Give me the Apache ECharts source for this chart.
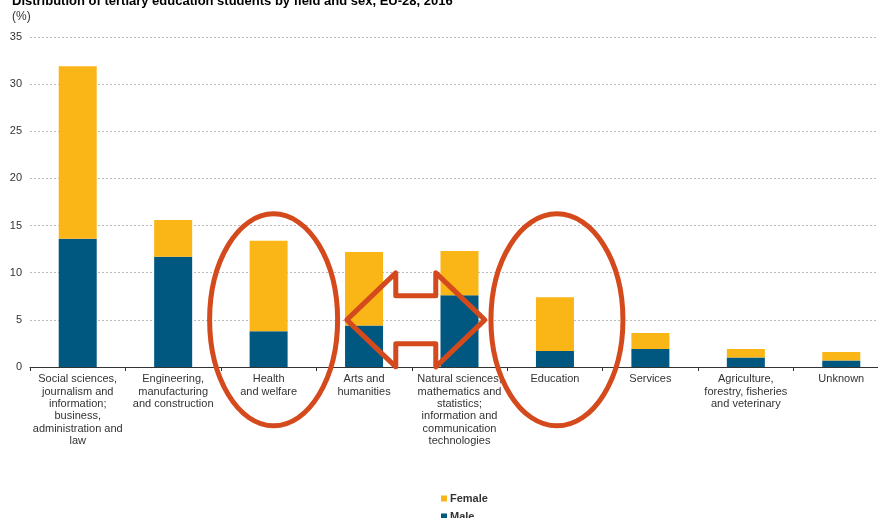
<!DOCTYPE html>
<html>
<head>
<meta charset="utf-8">
<script src="https://cdn.jsdelivr.net/npm/echarts@6/dist/echarts.min.js"></script>
<style>
html,body{margin:0;padding:0;background:#fff;}
#chart{width:878px;height:518px;}
</style>
</head>
<body>
<div id="chart"></div>
<script>
const categories = [
  'Social sciences,\njournalism and\ninformation;\nbusiness,\nadministration and\nlaw',
  'Engineering,\nmanufacturing\nand construction',
  'Health\nand welfare',
  'Arts and\nhumanities',
  'Natural sciences,\nmathematics and\nstatistics;\ninformation and\ncommunication\ntechnologies',
  'Education',
  'Services',
  'Agriculture,\nforestry, fisheries\nand veterinary',
  'Unknown'
];
const maleValues = [13.6, 11.7, 3.8, 4.4, 7.6, 1.7, 1.9, 1.0, 0.7];
const femaleValues = [18.3, 3.9, 9.6, 7.8, 4.7, 5.7, 1.7, 0.9, 0.9];
const yTicks = {min: 0, max: 35, interval: 5};

const FONT = '"Liberation Sans", Arial, sans-serif';
const RED = '#D44A1C';
const legendText = {fontSize: 11, fontWeight: 'bold', color: '#333', fontFamily: FONT, padding: [0, 0, 0, -2]};
const chart = echarts.init(document.getElementById('chart'));
chart.setOption({
  animation: false,
  textStyle: {fontFamily: FONT},
  title: [
    {text: 'Distribution of tertiary education students by field and sex, EU-28, 2016', left: 7, top: -10,
     textStyle: {fontSize: 13, fontWeight: 'bold', color: '#000', fontFamily: FONT}},
    {text: '(%)', left: 7, top: 6, textStyle: {fontSize: 12, fontWeight: 'normal', color: '#333', fontFamily: FONT}}
  ],
  legend: [
    {data: ['Female'], left: 436, top: 488, itemWidth: 6, itemHeight: 6, icon: 'rect', textStyle: legendText},
    {data: ['Male'], left: 436, top: 506, itemWidth: 6, itemHeight: 6, icon: 'rect', textStyle: legendText}
  ],
  grid: {left: 30, top: 37, right: -11, height: 330, outerBoundsMode: 'none', containLabel: false},
  xAxis: {
    type: 'category', data: categories,
    axisLine: {lineStyle: {color: '#333', width: 1}},
    axisTick: {show: true, length: 4, lineStyle: {color: '#333'}},
    axisLabel: {interval: 0, color: '#333', fontSize: 11, lineHeight: 12.4, margin: 6, fontFamily: FONT}
  },
  yAxis: {
    type: 'value', min: yTicks.min, max: yTicks.max, interval: yTicks.interval,
    axisLine: {show: false}, axisTick: {show: false},
    axisLabel: {color: '#333', fontSize: 11, margin: 8, fontFamily: FONT},
    splitLine: {lineStyle: {color: '#bbb', type: [2, 2], width: 1}}
  },
  series: [
    {name: 'Male', type: 'bar', stack: 's', data: maleValues, barWidth: 38, itemStyle: {color: '#00577F'}},
    {name: 'Female', type: 'bar', stack: 's', data: femaleValues, barWidth: 38, itemStyle: {color: '#FAB516'}}
  ]
});

// Annotations positioned from the axes
const xHealth = chart.convertToPixel({xAxisIndex: 0}, categories[2]);
const xArts = chart.convertToPixel({xAxisIndex: 0}, categories[3]);
const xNat = chart.convertToPixel({xAxisIndex: 0}, categories[4]);
const xEdu = chart.convertToPixel({xAxisIndex: 0}, categories[5]);
const yMid = chart.convertToPixel({yAxisIndex: 0}, 5);
const ax = (xArts + xNat) / 2 + 4;
const L = 69, HB = 20, HH = 47, SH = 24;
const arrowPts = [
  [ax - L, yMid], [ax - HB, yMid - HH], [ax - HB, yMid - SH], [ax + HB, yMid - SH],
  [ax + HB, yMid - HH], [ax + L, yMid], [ax + HB, yMid + HH], [ax + HB, yMid + SH],
  [ax - HB, yMid + SH], [ax - HB, yMid + HH]
];
chart.setOption({
  graphic: [
    {type: 'ellipse', shape: {cx: xHealth + 5, cy: yMid, rx: 64, ry: 106}, z: 100,
     style: {fill: 'none', stroke: RED, lineWidth: 5}},
    {type: 'ellipse', shape: {cx: xEdu + 2, cy: yMid, rx: 66, ry: 106}, z: 100,
     style: {fill: 'none', stroke: RED, lineWidth: 5}},
    {type: 'polygon', shape: {points: arrowPts}, z: 100,
     style: {fill: 'none', stroke: RED, lineWidth: 5, lineJoin: 'round'}}
  ]
});
</script>
</body>
</html>
